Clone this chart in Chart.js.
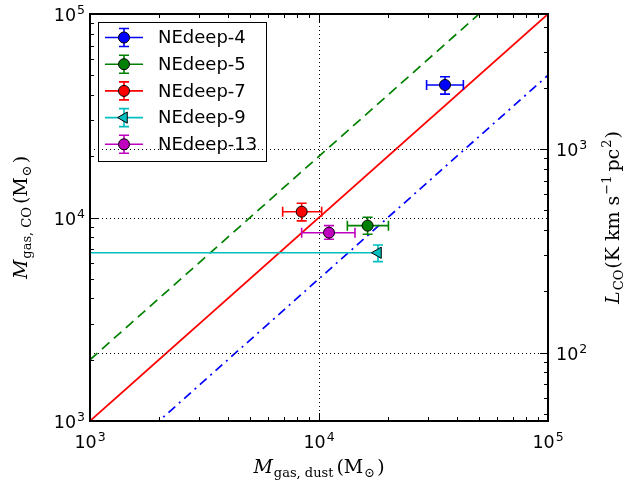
<!DOCTYPE html>
<html>
<head>
<meta charset="utf-8">
<script src="https://cdn.jsdelivr.net/npm/chart.js@4/dist/chart.umd.min.js"></script>
<style>
html, body { margin: 0; padding: 0; background: #fff; }
</style>
</head>
<body>
<canvas id="myChart" width="629" height="486"></canvas>
<script>
// sources
const names = ['NEdeep-4', 'NEdeep-5', 'NEdeep-7', 'NEdeep-9', 'NEdeep-13'];
const massDust = [35500, 16300, 8400, 18100, 11060];
const massDustLo = [29500, 13300, 6940, 500, 8400];
const massDustHi = [42700, 20100, 10270, 18100, 14360];
const massCO = [44800, 9120, 10680, 6710, 8420];
const massCOLo = [40400, 8270, 9620, 6070, 7820];
const massCOHi = [49200, 10030, 11750, 7330, 9120];

// reference relations (x, y endpoints)
const relX = [1000, 100000];
const relEqual = [1000, 100000];
const relDouble = [2000, 200000];
const relHalf = [500, 50000];

// ticks
const massTicks = [1e3, 1e4, 1e5];
const lcoTicks = [1e2, 1e3];
const lcoRange = [46.08, 4608];

const colors = ['#0000ff', '#008000', '#ff0000', '#00bfbf', '#bf00bf'];
const SANS = '"DejaVu Sans", sans-serif';
const SERIF = '"DejaVu Serif", serif';

function pts(ys) { return relX.map((x, i) => ({x: x, y: ys[i]})); }

const datasets = names.map((n, i) => ({
	label: n,
	data: [{x: massDust[i], y: massCO[i]}],
	backgroundColor: colors[i],
	borderColor: '#000',
	pointBorderWidth: 1,
	pointRadius: i === 3 ? 6.5 : 5.5,
	pointStyle: i === 3 ? 'triangle' : 'circle',
	rotation: i === 3 ? -90 : 0,
	showLine: false
}));
datasets.push({label: 'x2', data: pts(relDouble), showLine: true, pointRadius: 0, borderColor: '#008000', borderWidth: 1.7, borderDash: [10, 6]});
datasets.push({label: 'x1', data: pts(relEqual), showLine: true, pointRadius: 0, borderColor: '#ff0000', borderWidth: 1.7});
datasets.push({label: 'x05', data: pts(relHalf), showLine: true, pointRadius: 0, borderColor: '#0000ff', borderWidth: 1.7, borderDash: [9, 5, 2, 5]});

function minorVals(min, max) {
	let out = [];
	for (let d = Math.floor(Math.log10(min)); d <= Math.ceil(Math.log10(max)); d++) {
		for (let k = 1; k <= 9; k++) {
			let v = k * Math.pow(10, d);
			if (v >= min * 0.9999 && v <= max * 1.0001) out.push({v: v, major: k === 1});
		}
	}
	return out;
}

function powLabel(ctx, exp, x, y, align) {
	ctx.save();
	ctx.fillStyle = '#000';
	ctx.textBaseline = 'alphabetic';
	ctx.font = '17.5px ' + SANS;
	let w1 = ctx.measureText('10').width;
	ctx.font = '12.5px ' + SANS;
	let w2 = ctx.measureText(String(exp)).width;
	let w = w1 + w2 + 1;
	let left = align === 'center' ? x - w / 2 : (align === 'right' ? x - w : x);
	ctx.textAlign = 'left';
	ctx.font = '17.5px ' + SANS;
	ctx.fillText('10', left, y);
	ctx.font = '12.5px ' + SANS;
	ctx.fillText(String(exp), left + w1 + 1, y - 7);
	ctx.restore();
}

function mathText(ctx, parts, x, y, rot) {
	ctx.save();
	ctx.translate(x, y);
	if (rot) ctx.rotate(rot);
	ctx.fillStyle = '#000';
	ctx.textBaseline = 'alphabetic';
	ctx.textAlign = 'left';
	let total = 0;
	parts.forEach(p => { ctx.font = p[1]; total += ctx.measureText(p[0]).width + (p[3] || 0); });
	let cx = -total / 2;
	parts.forEach(p => {
		ctx.font = p[1];
		ctx.fillText(p[0], cx, p[2]);
		cx += ctx.measureText(p[0]).width + (p[3] || 0);
	});
	ctx.restore();
}

const errorBars = {
	id: 'errorBars',
	beforeDatasetDraw(chart, args) {
		let i = args.index;
		if (i >= names.length) return;
		const {ctx, chartArea: a, scales} = chart;
		const x = scales.x, y = scales.y;
		let px = x.getPixelForValue(massDust[i]), py = y.getPixelForValue(massCO[i]);
		let x0 = x.getPixelForValue(massDustLo[i]), x1 = x.getPixelForValue(massDustHi[i]);
		let y0 = y.getPixelForValue(massCOLo[i]), y1 = y.getPixelForValue(massCOHi[i]);
		ctx.save();
		ctx.beginPath();
		ctx.rect(a.left, a.top, a.right - a.left, a.bottom - a.top);
		ctx.clip();
		ctx.strokeStyle = colors[i];
		ctx.lineWidth = 1.6;
		ctx.beginPath();
		ctx.moveTo(x0, py); ctx.lineTo(x1, py);
		ctx.moveTo(px, y0); ctx.lineTo(px, y1);
		ctx.moveTo(px - 5, y0); ctx.lineTo(px + 5, y0);
		ctx.moveTo(px - 5, y1); ctx.lineTo(px + 5, y1);
		if (massDustLo[i] !== massDust[i]) { ctx.moveTo(x0, py - 5); ctx.lineTo(x0, py + 5); }
		if (massDustHi[i] !== massDust[i]) { ctx.moveTo(x1, py - 5); ctx.lineTo(x1, py + 5); }
		ctx.stroke();
		ctx.restore();
	}
};

const frame = {
	id: 'frame',
	beforeDatasetsDraw(chart) {
		const {ctx, chartArea: a, scales} = chart;
		ctx.save();
		ctx.strokeStyle = '#000';
		ctx.lineWidth = 1;
		ctx.setLineDash([1, 3]);
		ctx.beginPath();
		massTicks.forEach(v => {
			let px = Math.round(scales.x.getPixelForValue(v)) + 0.5;
			if (px > a.left + 2 && px < a.right - 2) { ctx.moveTo(px, a.top); ctx.lineTo(px, a.bottom); }
			let py = Math.round(scales.y.getPixelForValue(v)) + 0.5;
			if (py > a.top + 2 && py < a.bottom - 2) { ctx.moveTo(a.left, py); ctx.lineTo(a.right, py); }
		});
		ctx.stroke();
		ctx.restore();
	},
	afterDraw(chart) {
		const {ctx, chartArea: a, scales} = chart;
		// legend
		ctx.save();
		ctx.fillStyle = '#fff';
		ctx.fillRect(98, 22, 168, 139);
		ctx.strokeStyle = '#000';
		ctx.lineWidth = 1;
		ctx.strokeRect(98.5, 22.5, 168, 139);
		names.forEach((n, i) => {
			let ly = 37.5 + i * 26.7, lx = 124;
			ctx.strokeStyle = colors[i];
			ctx.lineWidth = 1.6;
			ctx.beginPath();
			ctx.moveTo(105, ly); ctx.lineTo(143, ly);
			ctx.moveTo(lx, ly - 9); ctx.lineTo(lx, ly + 9);
			ctx.moveTo(lx - 5, ly - 9); ctx.lineTo(lx + 5, ly - 9);
			ctx.moveTo(lx - 5, ly + 9); ctx.lineTo(lx + 5, ly + 9);
			ctx.stroke();
			ctx.fillStyle = colors[i];
			ctx.strokeStyle = '#000';
			ctx.lineWidth = 1;
			Chart.helpers.drawPoint(ctx, {pointStyle: i === 3 ? 'triangle' : 'circle', radius: i === 3 ? 6.5 : 5.5, rotation: i === 3 ? -90 : 0, borderWidth: 1}, lx, ly);
			ctx.fillStyle = '#000';
			ctx.font = '18px ' + SANS;
			ctx.textBaseline = 'middle';
			ctx.fillText(n, 158, ly + 1);
		});
		ctx.restore();

		// right axis grid (drawn over legend)
		ctx.save();
		ctx.strokeStyle = '#000';
		ctx.lineWidth = 1;
		ctx.setLineDash([1, 3]);
		ctx.beginPath();
		lcoTicks.forEach(v => {
			let py = Math.round(scales.y2.getPixelForValue(v)) + 0.5;
			ctx.moveTo(a.left, py); ctx.lineTo(a.right, py);
		});
		ctx.stroke();
		ctx.restore();

		// frame and ticks
		ctx.save();
		ctx.strokeStyle = '#000';
		ctx.lineWidth = 1;
		ctx.beginPath();
		minorVals(1e3, 1e5).forEach(t => {
			let len = t.major ? 8 : 4;
			let px = Math.round(scales.x.getPixelForValue(t.v)) + 0.5;
			ctx.moveTo(px, a.bottom); ctx.lineTo(px, a.bottom - len);
			ctx.moveTo(px, a.top); ctx.lineTo(px, a.top + len);
			let py = Math.round(scales.y.getPixelForValue(t.v)) + 0.5;
			ctx.moveTo(a.left, py); ctx.lineTo(a.left + len, py);
		});
		minorVals(lcoRange[0], lcoRange[1]).forEach(t => {
			let len = t.major ? 8 : 4;
			let py = Math.round(scales.y2.getPixelForValue(t.v)) + 0.5;
			ctx.moveTo(a.right, py); ctx.lineTo(a.right - len, py);
		});
		ctx.stroke();
		ctx.lineWidth = 2;
		ctx.strokeRect(a.left, a.top, a.right - a.left, a.bottom - a.top);
		ctx.restore();

		// tick labels
		massTicks.forEach(v => {
			let e = Math.round(Math.log10(v));
			powLabel(ctx, e, scales.x.getPixelForValue(v), a.bottom + 27, 'center');
			powLabel(ctx, e, a.left - 5, scales.y.getPixelForValue(v) + 7, 'right');
		});
		lcoTicks.forEach(v => {
			let e = Math.round(Math.log10(v));
			powLabel(ctx, e, a.right + 8, scales.y2.getPixelForValue(v) + 7, 'left');
		});

		// axis titles
		const big = '19px ' + SERIF, sub = '13px ' + SERIF, it = 'italic 19px ' + SERIF;
		mathText(ctx, [['M', it, 0, 1], ['gas, dust', sub, 4, 3], ['(M', big, 0, 1], ['\u2299', sub, 4, 2], [')', big, 0]],
			(a.left + a.right) / 2, 473, 0);
		mathText(ctx, [['M', it, 0, 1], ['gas, CO', sub, 4, 3], ['(M', big, 0, 1], ['\u2299', sub, 4, 2], [')', big, 0]],
			27, (a.top + a.bottom) / 2, -Math.PI / 2);
		mathText(ctx, [['L', it, 0, 1], ['CO', sub, 4, 1], ['(K km s', big, 0, 1], ['\u22121', sub, -8, 4], ['pc', big, 0, 1], ['2', sub, -8, 1], [')', big, 0]],
			619, (a.top + a.bottom) / 2, -Math.PI / 2);
	}
};

var ctx = document.getElementById('myChart').getContext('2d');
var myChart = new Chart(ctx, {
	type: 'scatter',
	data: { datasets: datasets },
	options: {
		responsive: false,
		animation: false,
		events: [],
		layout: { padding: { left: 90, right: 81, top: 14, bottom: 65 } },
		plugins: { legend: { display: false }, tooltip: { enabled: false } },
		scales: {
			x: { type: 'logarithmic', min: 1e3, max: 1e5, display: false },
			y: { type: 'logarithmic', min: 1e3, max: 1e5, display: false },
			y2: { type: 'logarithmic', position: 'right', min: lcoRange[0], max: lcoRange[1], display: false }
		}
	},
	plugins: [errorBars, frame]
});
</script>
</body>
</html>
